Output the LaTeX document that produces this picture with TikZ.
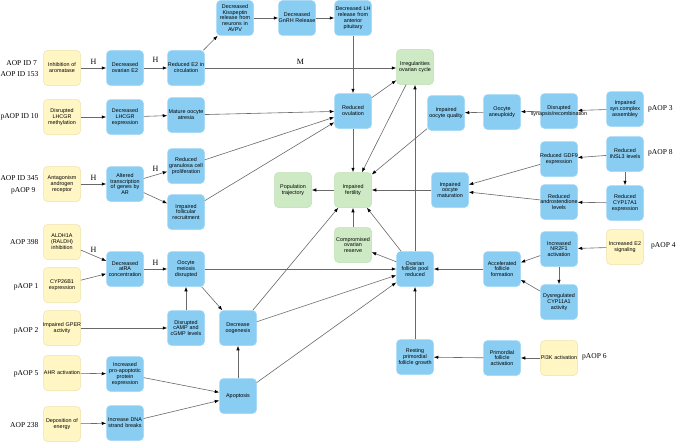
\documentclass[tikz,border=0pt]{standalone}
\usepackage{fontspec}
\usetikzlibrary{arrows.meta}
\newfontfamily\boxfont{Liberation Sans}
\newfontfamily\labfont{Liberation Serif}
\newcommand\ovf[1]{\makebox[0pt]{#1}}
\definecolor{bfill}{RGB}{137,205,242}
\definecolor{bdraw}{RGB}{165,218,246}
\definecolor{yfill}{RGB}{255,246,196}
\definecolor{ydraw}{RGB}{238,226,170}
\definecolor{gfill}{RGB}{206,234,197}
\definecolor{gdraw}{RGB}{190,224,180}
\definecolor{lgray}{RGB}{105,105,105}
\begin{document}
\begin{tikzpicture}[x=1pt,y=-1pt,
 box/.style={rounded corners=4pt, minimum height=35pt, text width=35pt, inner sep=1pt, align=center, font=\boxfont\fontsize{5.4}{5.9}\selectfont, line width=0.5pt},
 bb/.style={box, fill=bfill, draw=bdraw},
 yb/.style={box, fill=yfill, draw=ydraw},
 gb/.style={box, fill=gfill, draw=gdraw},
 lab/.style={font=\labfont\fontsize{7.5}{9}\selectfont, inner sep=0pt},
 hl/.style={font=\labfont\fontsize{8}{9}\selectfont, inner sep=0pt},
 ar/.style={draw=lgray, line width=0.6pt, -{Latex[length=4.5pt,width=3.4pt,black]}}
]
\fill[white] (0,0) rectangle (676,444);
\useasboundingbox (0,0) rectangle (676,444);

% row 1
\node[yb] (ia) at (62,68) {Inhibition of\\aromatase};
\node[bb] (doe2) at (125,68) {Decreased\\ovarian E2};
\node[bb] (re2) at (186,68) {\ovf{Reduced E2 in}\\circulation};
\node[bb] (kis) at (235,18) {Decreased\\Kisspeptin\\release from\\neurons in\\AVPV};
\node[bb] (gnrh) at (297,18) {Decreased\\\ovf{GnRH Release}};
\node[bb] (lh) at (353,18) {\ovf{Decreased LH}\\release from\\anterior\\pituitary};
\node[gb] (irr) at (415,67) {Irregularities\\ovarian cycle};
% row 2
\node[yb] (dlm) at (62,117) {Disrupted\\LHCGR\\methylation};
\node[bb] (dle) at (125,117) {Decreased\\LHCGR\\expression};
\node[bb] (moa) at (186,115) {Mature oocyte\\atresia};
\node[bb] (rov) at (353,111) {Reduced\\ovulation};
\node[bb] (ioq) at (446,113) {Impaired\\oocyte quality};
\node[bb] (ane) at (502,112) {Oocyte\\aneuploidy};
\node[bb] (dsr) at (559,111) {Disrupted\\\ovf{synapsis/recombination}};
\node[bb] (isc) at (625,109) {Impaired\\syn.complex\\assembley};
% row 3
\node[yb] (aar) at (62,184) {Antagonism\\androgen\\receptor};
\node[bb] (atg) at (125,184) {Altered\\transcription\\of genes by\\AR};
\node[bb] (rgc) at (186,166) {Reduced\\granulosa cell\\proliferation};
\node[bb] (ifr) at (186,212) {Impaired\\follicular\\recruitment};
\node[gb] (pop) at (293,190) {Population\\trajectory};
\node[gb] (ifer) at (353,190) {Impaired\\fertility};
\node[bb] (iom) at (450,190) {Impaired\\oocyte\\maturation};
\node[bb] (gdf) at (559,159) {\ovf{Reduced GDF9}\\expression};
\node[bb] (insl) at (625,154) {Reduced\\INSL3 levels};
\node[bb] (andr) at (559,202) {Reduced\\\ovf{androstendione}\\levels};
\node[bb] (cyp17) at (625,203) {Reduced\\CYP17A1\\expression};
% row 4
\node[yb] (aldh) at (62,242) {ALDH1A\\(RALDH)\\inhibition};
\node[yb] (cyp26) at (62,285) {CYP26B1\\expression};
\node[bb] (atra) at (125,269) {Decreased\\atRA\\concentration};
\node[bb] (omd) at (186,269) {Oocyte\\meiosis\\disrupted};
\node[gb] (cor) at (353,245) {Compromised\\ovarian\\reserve};
\node[bb] (ofp) at (415,269) {Ovarian\\follicle pool\\reduced};
\node[bb] (aff) at (502,269) {Accelerated\\follicle\\formation};
\node[bb] (nr2) at (559,249) {Increased\\NR2F1\\activation};
\node[yb] (e2s) at (625,247) {Increased E2\\signaling};
\node[bb] (dcyp) at (559,302) {Dysregulated\\CYP11A1\\activity};
% row 5
\node[yb] (gper) at (62,328) {\ovf{Impaired GPER}\\activity};
\node[bb] (camp) at (186,328) {Disrupted\\cAMP and\\cGMP levels};
\node[bb] (doog) at (238,328) {Decrease\\oogenesis};
\node[bb] (rpf) at (415,357) {Resting\\primordial\\follicle growth};
\node[bb] (pfa) at (502,358) {Primordial\\follicle\\activation};
\node[yb] (pi3k) at (559,358) {\ovf{PI3K activation}};
% row 6
\node[yb] (ahr) at (62,373) {\ovf{AHR activation}};
\node[bb] (ppe) at (125,374) {Increased\\pro-apoptotic\\protein\\expression};
\node[bb] (apo) at (238,396) {Apoptosis};
\node[yb] (dep) at (62,424) {Deposition of\\energy};
\node[bb] (dna) at (125,423) {Increase DNA\\strand breaks};

% side labels
\node[lab, anchor=east] (l1) at (37,63) {AOP ID 7};
\node[lab, anchor=east] (l2) at (38.7,74) {AOP ID 153};
\node[lab, anchor=east] (l3) at (38.7,117) {pAOP ID 10};
\node[lab, anchor=east] (l4) at (38.7,178) {AOP ID 345};
\node[lab, anchor=east] (l5) at (35.7,191) {pAOP 9};
\node[lab, anchor=east] (l6) at (38.5,242) {AOP 398};
\node[lab, anchor=east] (l7) at (38.5,287) {pAOP 1};
\node[lab, anchor=east] (l8) at (38.5,331) {pAOP 2};
\node[lab, anchor=east] (l9) at (38.5,374) {pAOP 5};
\node[lab, anchor=east] (l10) at (38.5,425) {AOP 238};
\node[lab, anchor=west] (r1) at (648,109) {pAOP 3};
\node[lab, anchor=west] (r2) at (648,153) {pAOP 8};
\node[lab, anchor=west] (r3) at (651,246) {pAOP 4};
\node[lab, anchor=west] (r4) at (582,357) {pAOP 6};

% edges
\draw[ar] (ia) -- node[hl, above=3pt] {H} (doe2);
\draw[ar] (doe2) -- node[hl, above=5pt] {H} (re2);
\draw[ar] (re2) -- (kis);
\draw[ar] (kis) -- (gnrh);
\draw[ar] (gnrh) -- (lh);
\draw[ar] (lh) -- (rov);
\draw[ar] (re2.east) -- node[hl, above=3pt] {M} (re2.east -| irr.west);
\draw[ar] (dlm) -- (dle);
\draw[ar] (dle) -- (moa);
\draw[ar] (moa) -- (rov);
\draw[ar] (rgc) -- (rov);
\draw[ar] (ifr) -- (rov);
\draw[ar] (rov) -- (irr);
\draw[ar] (rov) -- (ifer);
\draw[ar] (irr) -- (ifer);
\draw[ar] (ioq) -- (ifer);
\draw[ar] (ofp) -- (irr);
\draw[ar] (ane) -- (ioq);
\draw[ar] (dsr) -- (ane);
\draw[ar] (isc) -- (dsr);
\draw[ar] (iom) -- (ifer);
\draw[ar] (gdf) -- (iom);
\draw[ar] (andr) -- (iom);
\draw[ar] (insl) -- (gdf);
\draw[ar] (insl) -- (cyp17);
\draw[ar] (cyp17) -- (andr);
\draw[ar] (ifer) -- (pop);
\draw[ar] (cor) -- (ifer);
\draw[ar] (ofp) -- (cor);
\draw[ar] (ofp) -- (ifer);
\draw[ar] (aar) -- node[hl, above=3pt] {H} (atg);
\draw[ar] (atg) -- node[hl, above=3pt] {H} (rgc);
\draw[ar] (atg) -- (ifr);
\draw[ar] (aldh) -- node[hl, above=3pt] {H} (atra);
\draw[ar] (cyp26) -- (atra);
\draw[ar] (atra) -- node[hl, above=3pt] {H} (omd);
\draw[ar] (omd) -- (ofp);
\draw[ar] (omd) -- (doog);
\draw[ar] (camp) -- (omd);
\draw[ar] (gper) -- (camp);
\draw[ar] (doog) -- (ifer);
\draw[ar] (doog) -- (ofp);
\draw[ar] (apo) -- (doog);
\draw[ar] (apo) -- (ofp);
\draw[ar] (ahr) -- (ppe);
\draw[ar] (dep) -- (dna);
\draw[ar] (ppe) -- (apo);
\draw[ar] (dna) -- (apo);
\draw[ar] (rpf) -- (ofp);
\draw[ar] (pfa) -- (rpf);
\draw[ar] (pi3k) -- (pfa);
\draw[ar] (aff) -- (ofp);
\draw[ar] (nr2) -- (aff);
\draw[ar] (nr2) -- (dcyp);
\draw[ar] (dcyp) -- (aff);
\draw[ar] (e2s) -- (nr2);
\end{tikzpicture}
\end{document}
